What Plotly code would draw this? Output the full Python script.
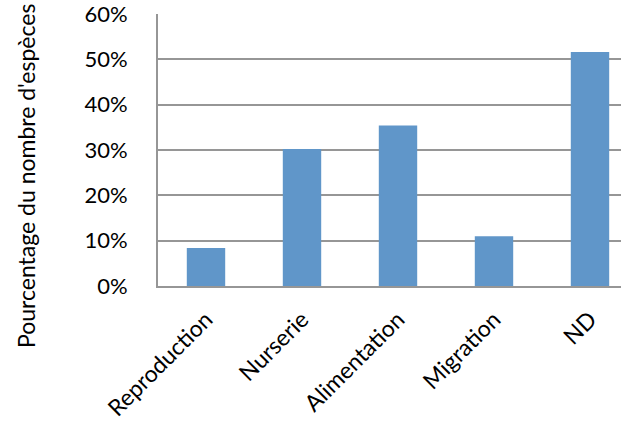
import plotly.graph_objects as go

categories = ["Reproduction", "Nurserie", "Alimentation", "Migration", "ND"]
values = [0.084, 0.302, 0.354, 0.110, 0.516]
y_ticks = [0, 0.1, 0.2, 0.3, 0.4, 0.5, 0.6]
y_title = "Pourcentage du nombre d'espèces"

font_family = "Lato, Open Sans, sans-serif"

fig = go.Figure(
    go.Bar(
        x=list(range(len(categories))),
        y=values,
        marker=dict(color="#6096C9", line=dict(width=0)),
        width=0.4,
    )
)

fig.update_layout(
    width=621,
    height=424,
    margin=dict(l=158, r=0, t=14, b=138),
    paper_bgcolor="white",
    plot_bgcolor="white",
    showlegend=False,
    font=dict(family=font_family, color="black"),
    annotations=[
        dict(
            text=y_title,
            textangle=-90,
            xref="paper",
            yref="paper",
            x=(26 - 158) / 463,
            y=(286 - 176) / 272,
            xanchor="center",
            yanchor="middle",
            showarrow=False,
            font=dict(size=23, family=font_family, color="black"),
        )
    ],
)

fig.update_xaxes(
    range=[-0.5, -0.5 + 463 / 96],
    tickmode="array",
    tickvals=list(range(len(categories))),
    ticktext=categories,
    tickangle=-45,
    tickfont=dict(size=23, family=font_family),
    ticklabelstandoff=9,
    showline=True,
    linecolor="#969696",
    linewidth=2,
    showgrid=False,
    ticks="",
)

fig.update_yaxes(
    range=[0, 0.6],
    tickmode="array",
    tickvals=y_ticks,
    tickformat=".0%",
    tickfont=dict(size=22, family=font_family),
    ticklabeloverflow="allow",
    showline=True,
    linecolor="#969696",
    linewidth=2,
    showgrid=True,
    gridcolor="#969696",
    gridwidth=2,
    zeroline=False,
    ticks="",
    ticklabelstandoff=24,
)

fig.write_html("out.html")
